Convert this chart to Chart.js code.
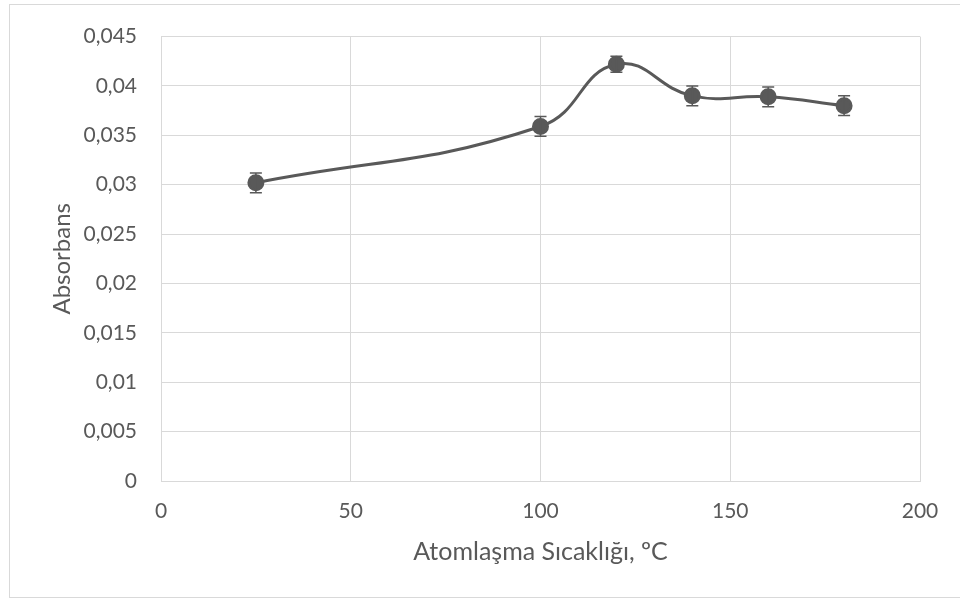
<!DOCTYPE html>
<html>
<head>
<meta charset="utf-8">
<script src="https://cdn.jsdelivr.net/npm/chart.js@4.4.1/dist/chart.umd.min.js"></script>
<style>
  html, body { margin: 0; padding: 0; background: #fff; overflow: hidden; }
  #wrap { position: relative; width: 960px; height: 601px; }
  #frame { position: absolute; left: 9px; top: 4px; width: 960px; height: 594px; border: 1px solid #d9d9d9; box-sizing: border-box; }
  canvas { position: absolute; left: 0; top: 0; }
</style>
</head>
<body>
<div id="wrap">
  <div id="frame"></div>
  <canvas id="chart" width="960" height="601"></canvas>
</div>
<script>
// temperatures (ºC) and absorbance readings
const temps = [25, 100, 120, 140, 160, 180];
const absorbans = [0.0302, 0.0359, 0.0422, 0.0390, 0.0389, 0.0380];
const errors = [0.001, 0.001, 0.0008, 0.001, 0.001, 0.001];
const xTicks = [0, 50, 100, 150, 200];
const yTicks = [0, 0.005, 0.01, 0.015, 0.02, 0.025, 0.03, 0.035, 0.04, 0.045];

const gray = '#595959';
const gridGray = '#d9d9d9';
const fontFamily = 'Lato, "Open Sans", sans-serif';

const errorBars = {
  id: 'errorBars',
  afterDatasetsDraw(chart) {
    const ctx = chart.ctx;
    const x = chart.scales.x;
    const y = chart.scales.y;
    ctx.save();
    ctx.strokeStyle = gray;
    ctx.lineWidth = 1.5;
    temps.forEach((t, i) => {
      const px = x.getPixelForValue(t);
      const top = y.getPixelForValue(absorbans[i] + errors[i]);
      const bot = y.getPixelForValue(absorbans[i] - errors[i]);
      ctx.beginPath();
      ctx.moveTo(px, top); ctx.lineTo(px, bot);
      ctx.moveTo(px - 6, top); ctx.lineTo(px + 6, top);
      ctx.moveTo(px - 6, bot); ctx.lineTo(px + 6, bot);
      ctx.stroke();
    });
    ctx.restore();
  }
};

function fmt(v) {
  return parseFloat(v.toFixed(4)).toString().replace('.', ',');
}

new Chart(document.getElementById('chart'), {
  type: 'line',
  data: {
    datasets: [{
      data: temps.map((t, i) => ({ x: t, y: absorbans[i] })),
      borderColor: gray,
      borderWidth: 3,
      backgroundColor: gray,
      pointBackgroundColor: gray,
      pointBorderColor: gray,
      pointRadius: 7,
      tension: 0.45,
      fill: false
    }]
  },
  options: {
    responsive: false,
    animation: false,
    layout: { padding: { left: 0, top: 33, right: 40, bottom: 30 } },
    plugins: { legend: { display: false }, tooltip: { enabled: false } },
    scales: {
      x: {
        type: 'linear',
        min: 0, max: 200,
        afterBuildTicks(s) { s.ticks = xTicks.map(v => ({ value: v })); },
        afterFit(s) { s.height = 90; },
        grid: { color: gridGray, lineWidth: 1, drawTicks: false },
        border: { color: gridGray, width: 1 },
        ticks: { color: gray, padding: 18, font: { family: fontFamily, size: 21 } },
        title: {
          display: true, text: 'Atomlaşma Sıcaklığı, ºC', color: gray,
          font: { family: fontFamily, size: 25 }, padding: { top: 0, bottom: 4 }
        }
      },
      y: {
        min: 0, max: 0.045,
        afterBuildTicks(s) { s.ticks = yTicks.map(v => ({ value: v })); },
        afterFit(s) { s.width = 161; },
        grid: { color: gridGray, lineWidth: 1, drawTicks: false },
        border: { color: gridGray, width: 1 },
        ticks: { color: gray, padding: 24, font: { family: fontFamily, size: 21 }, callback: v => fmt(v) },
        title: {
          display: true, text: 'Absorbans', color: gray,
          font: { family: fontFamily, size: 24 }, padding: { top: 48, bottom: 0 }
        }
      }
    }
  },
  plugins: [errorBars]
});
</script>
</body>
</html>
